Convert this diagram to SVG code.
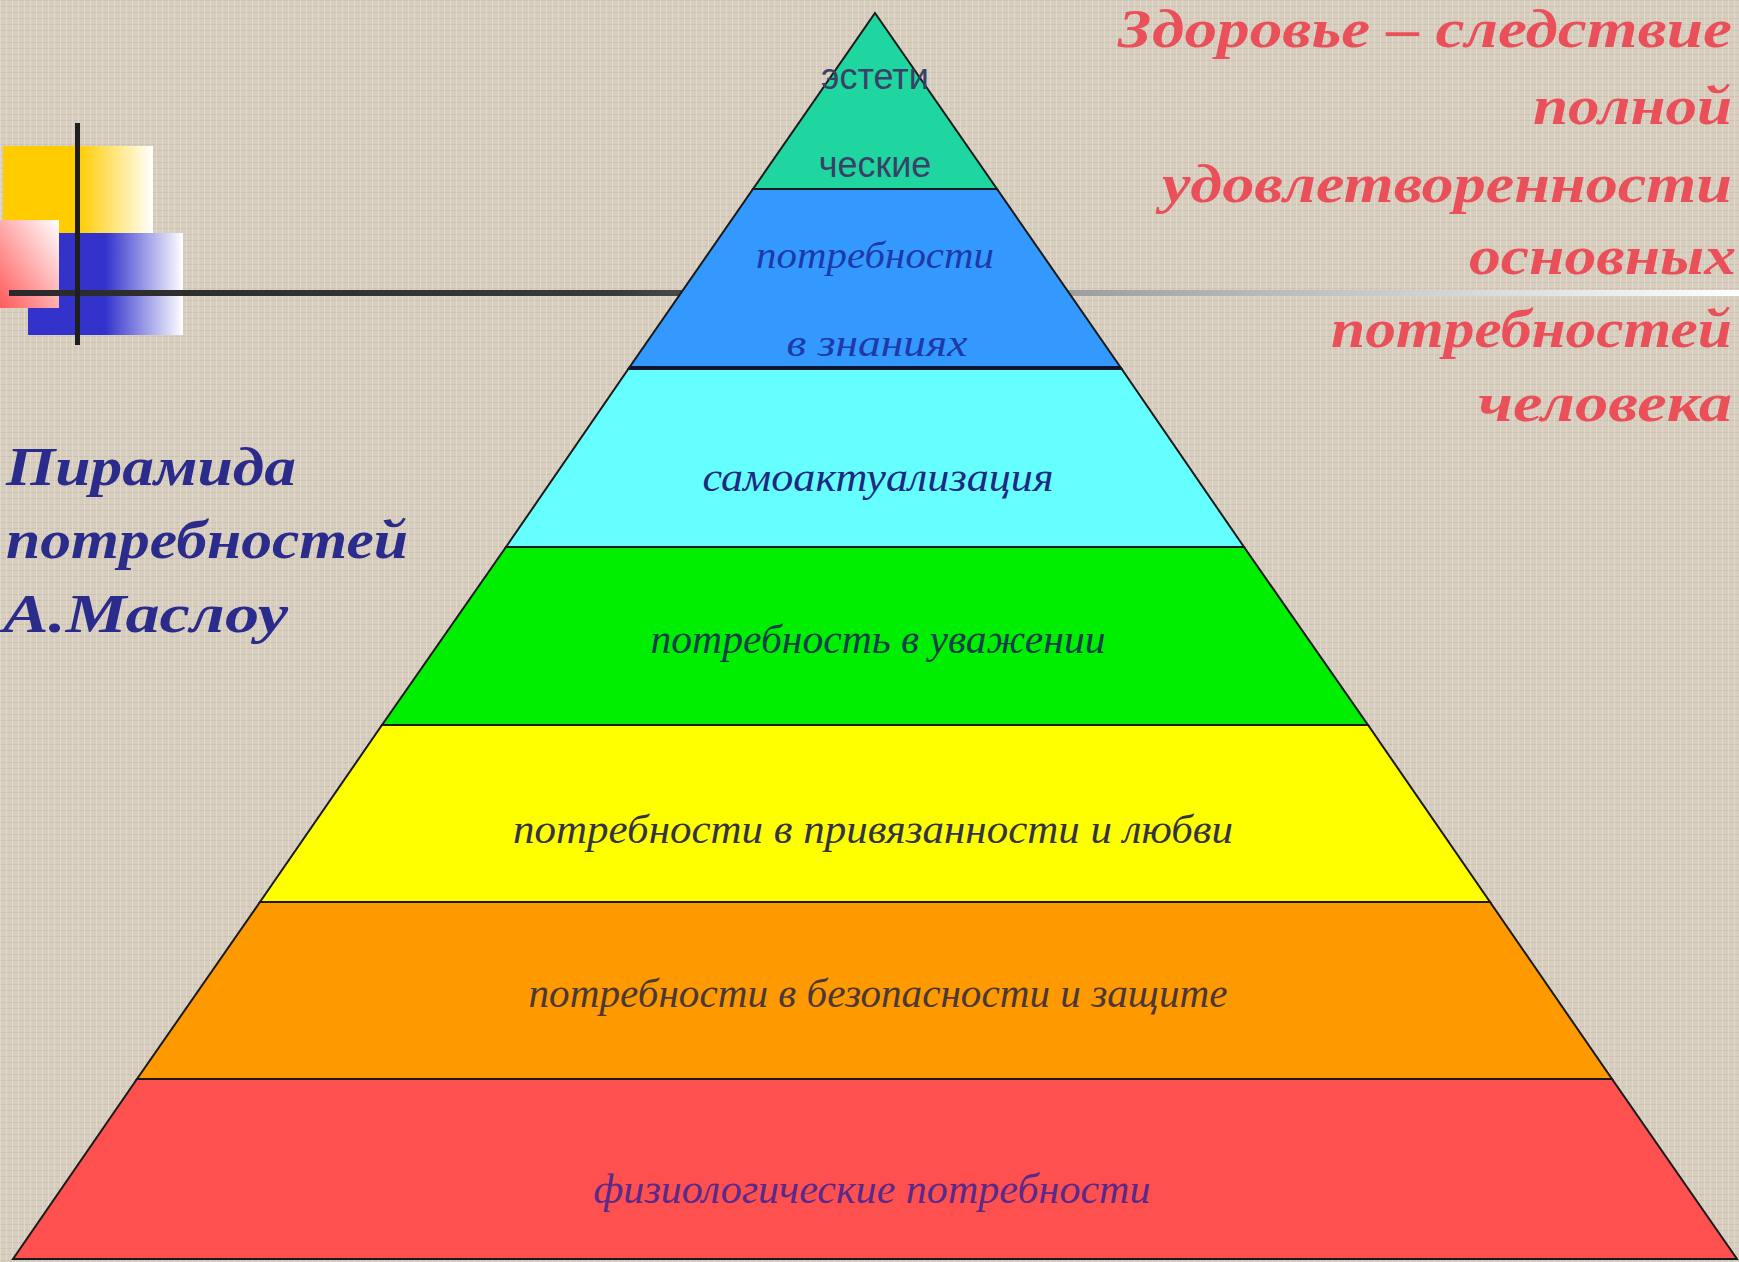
<svg xmlns="http://www.w3.org/2000/svg" width="1739" height="1262" viewBox="0 0 1739 1262">
<style>
.band{stroke:#1a1a1a;stroke-width:2;stroke-linejoin:miter}
.lbl{font-family:"Liberation Serif","DejaVu Serif",serif;font-style:italic;text-anchor:middle}
.sans{font-family:"Liberation Sans",Arial,sans-serif;text-anchor:middle;font-size:36px;fill:#3a4166}
.title{font-family:"Liberation Serif","DejaVu Serif",serif;font-style:italic;font-weight:bold;font-size:54px;fill:#2b2b8c}
.red{font-family:"Liberation Serif","DejaVu Serif",serif;font-style:italic;font-weight:bold;font-size:54px;fill:#e9505a;text-anchor:end}
</style>
<defs>
<pattern id="linen" width="6" height="6" patternUnits="userSpaceOnUse">
<rect width="6" height="6" fill="#d7cebf"/>
<rect x="0" y="0" width="6" height="1" fill="#c9bfae" opacity="0.8"/>
<rect x="0" y="0" width="1" height="6" fill="#e6dfd2" opacity="0.7"/>
</pattern>
<linearGradient id="gYellow" x1="0" y1="0" x2="1" y2="0">
<stop offset="0" stop-color="#ffcc00"/><stop offset="0.5" stop-color="#ffcc00"/><stop offset="1" stop-color="#ffffff"/>
</linearGradient>
<linearGradient id="gBlue" x1="0" y1="0" x2="1" y2="0">
<stop offset="0" stop-color="#3333cc"/><stop offset="0.5" stop-color="#3333cc"/><stop offset="1" stop-color="#ffffff"/>
</linearGradient>
<linearGradient id="gPink" x1="0" y1="1" x2="1" y2="0">
<stop offset="0" stop-color="#ff5a5a"/><stop offset="1" stop-color="#ffffff"/>
</linearGradient>
<linearGradient id="gLine" x1="0" y1="0" x2="1" y2="0">
<stop offset="0" stop-color="#2a2a2a"/><stop offset="0.35" stop-color="#3a3a3a"/><stop offset="0.6" stop-color="#9a9a9a"/><stop offset="1" stop-color="#ffffff"/>
</linearGradient>
</defs>
<rect width="1739" height="1262" fill="url(#linen)"/>

<g id="decoration">
<rect x="3" y="146" width="150" height="90" fill="url(#gYellow)"/>
<rect x="28" y="233" width="155" height="102" fill="url(#gBlue)"/>
<rect x="0" y="220" width="59" height="88" fill="url(#gPink)"/>
<rect x="9" y="290" width="1730" height="6" fill="url(#gLine)"/>
<rect x="75" y="123" width="5" height="222" fill="#1e1e1e"/>
</g>

<g id="pyramid">
<g id="band-aesthetic">
<polygon class="band" points="875,13 997,189 753,189" fill="#1fd6a0"/>
<text class="sans" x="875" y="89">эстети</text>
<text class="sans" x="875" y="177">ческие</text>
</g>
<g id="band-knowledge">
<polygon class="band" points="753,189 997,189 1121,368 629,368" fill="#3399ff"/>
<text class="lbl" x="875" y="268" font-size="38" fill="#1e3aa8" textLength="238" lengthAdjust="spacingAndGlyphs">потребности</text>
<text class="lbl" x="877" y="356" font-size="38" fill="#1e3aa8" textLength="181" lengthAdjust="spacingAndGlyphs">в знаниях</text>
</g>
<g id="band-selfactualization">
<polygon class="band" points="629,368 1121,368 1244,547 506,547" fill="#66ffff"/>
<text class="lbl" x="878" y="491" font-size="40" fill="#1c2a80" textLength="351" lengthAdjust="spacingAndGlyphs">самоактуализация</text>
</g>
<g id="band-esteem">
<polygon class="band" points="506,547 1244,547 1368,725 382,725" fill="#00ee00"/>
<text class="lbl" x="878" y="653" font-size="40" fill="#0f3f4a" textLength="455" lengthAdjust="spacingAndGlyphs">потребность в уважении</text>
</g>
<g id="band-love">
<polygon class="band" points="382,725 1368,725 1490,902 260,902" fill="#ffff00"/>
<text class="lbl" x="873" y="843" font-size="40" fill="#333344" textLength="720" lengthAdjust="spacingAndGlyphs">потребности в привязанности и любви</text>
</g>
<g id="band-safety">
<polygon class="band" points="260,902 1490,902 1612,1079 137,1079" fill="#ff9900"/>
<text class="lbl" x="878" y="1007" font-size="40" fill="#4a3838" textLength="699" lengthAdjust="spacingAndGlyphs">потребности в безопасности и защите</text>
</g>
<g id="band-physiological">
<polygon class="band" points="137,1079 1612,1079 1737,1259 13,1259" fill="#ff5050"/>
<text class="lbl" x="872" y="1203" font-size="42" fill="#5a2a8a" textLength="557" lengthAdjust="spacingAndGlyphs">физиологические потребности</text>
</g>
<line x1="629" y1="368" x2="1121" y2="368" stroke="#0d1530" stroke-width="4"/>
</g>

<g id="title-left">
<text class="title" x="6" y="485" textLength="290" lengthAdjust="spacingAndGlyphs">Пирамида</text>
<text class="title" x="6" y="558" textLength="402" lengthAdjust="spacingAndGlyphs">потребностей</text>
<text class="title" x="3" y="632" textLength="285" lengthAdjust="spacingAndGlyphs">А.Маслоу</text>
</g>

<g id="title-right">
<text class="red" x="1732" y="47" textLength="614" lengthAdjust="spacingAndGlyphs">Здоровье – следствие</text>
<text class="red" x="1732" y="124" textLength="199" lengthAdjust="spacingAndGlyphs">полной</text>
<text class="red" x="1732" y="202" textLength="570" lengthAdjust="spacingAndGlyphs">удовлетворенности</text>
<text class="red" x="1736" y="274" textLength="267" lengthAdjust="spacingAndGlyphs">основных</text>
<text class="red" x="1732" y="347" textLength="401" lengthAdjust="spacingAndGlyphs">потребностей</text>
<text class="red" x="1732" y="421" textLength="254" lengthAdjust="spacingAndGlyphs">человека</text>
</g>
</svg>
